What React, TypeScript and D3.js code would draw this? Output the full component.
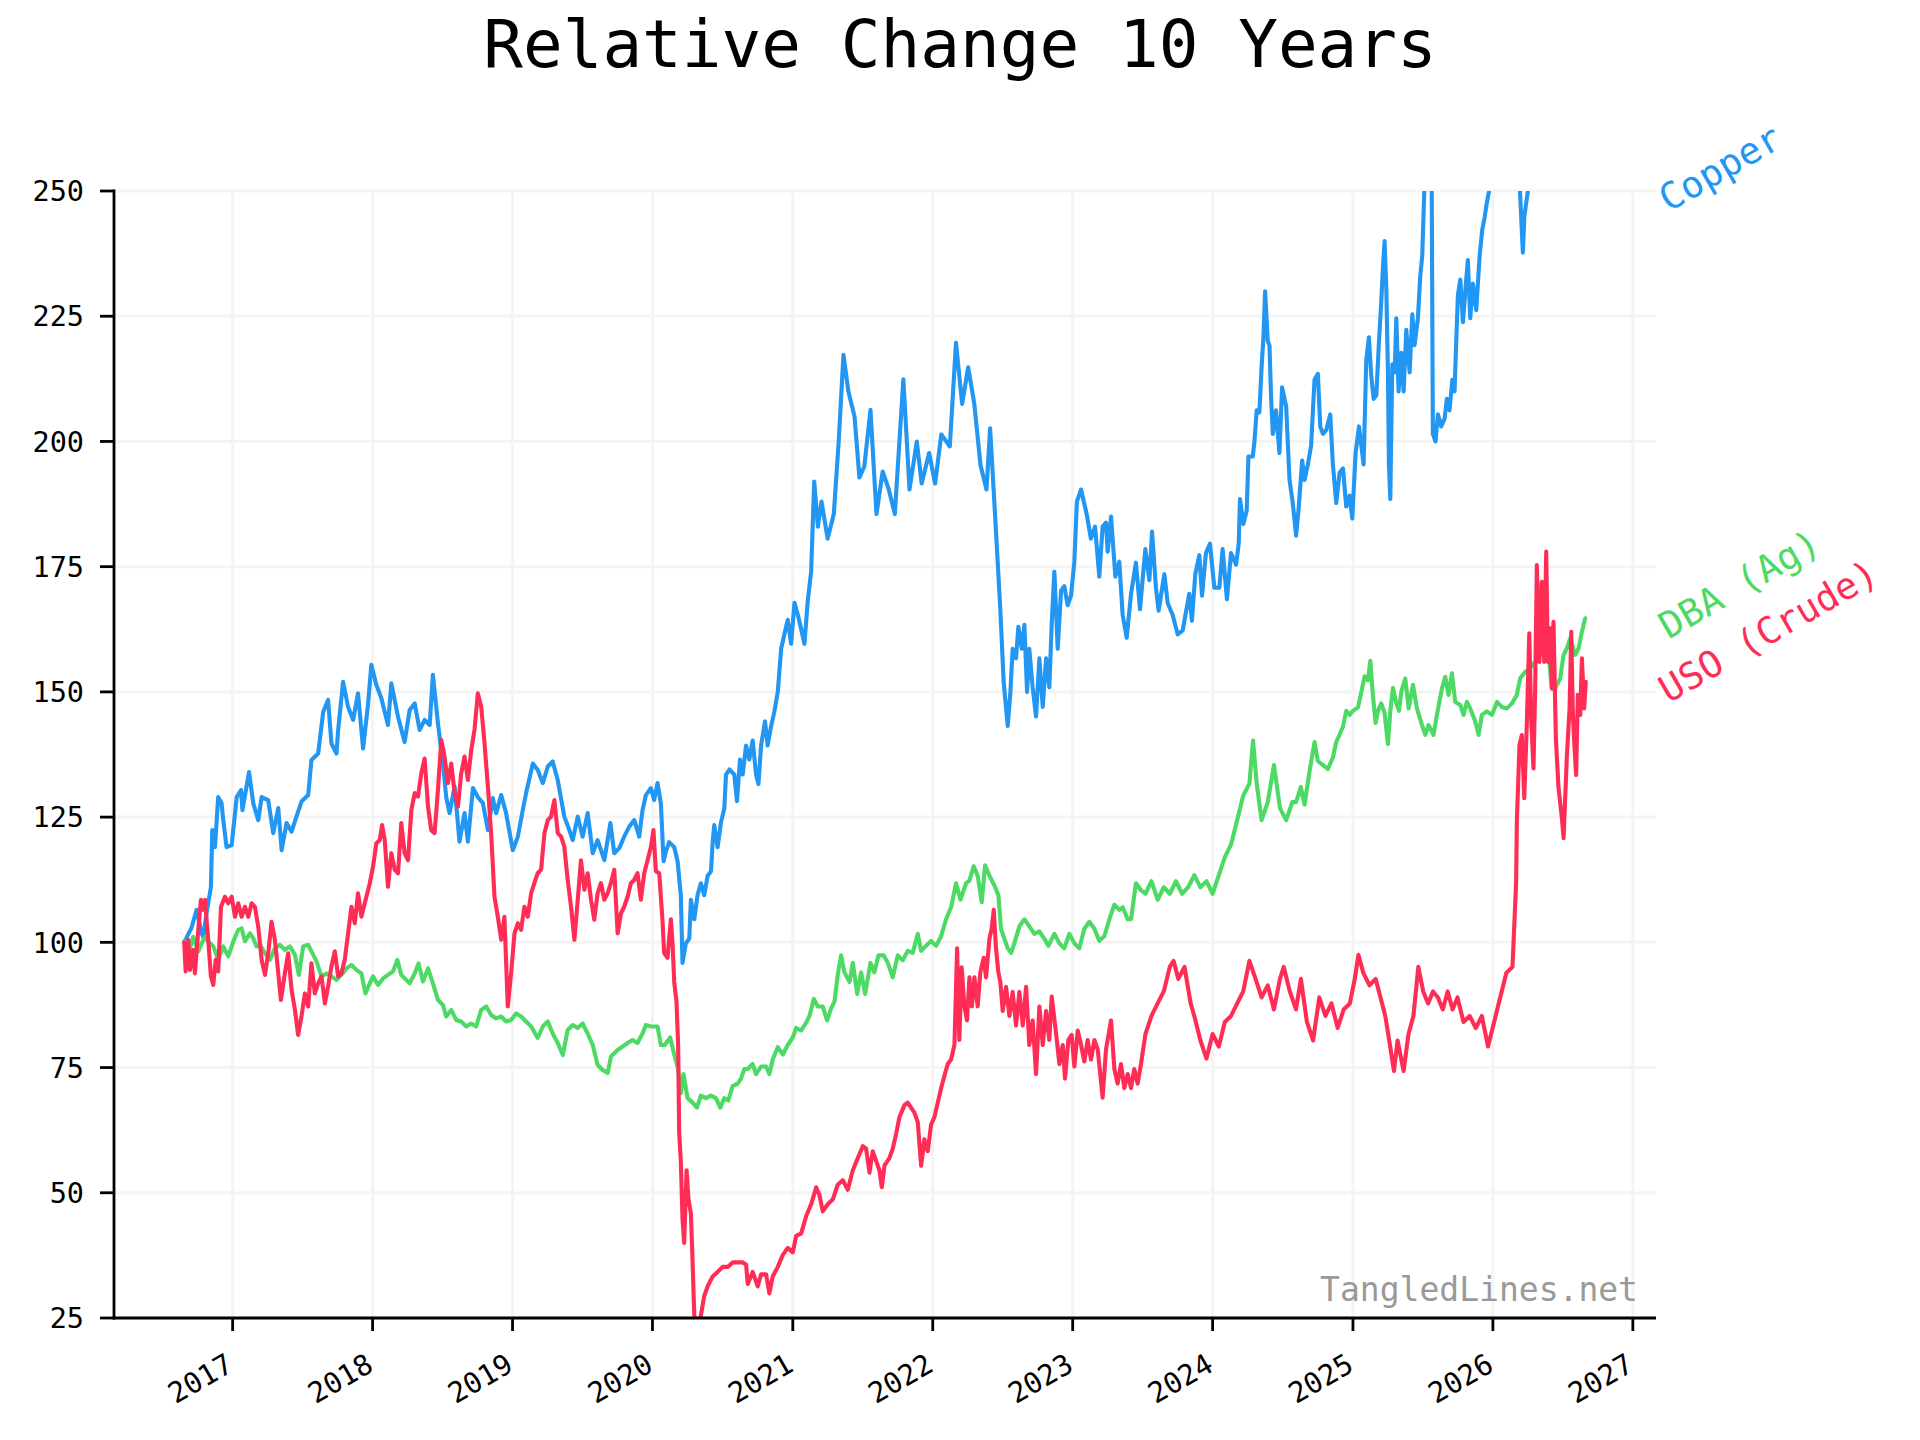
import React, { useEffect, useRef } from 'react';
import * as d3 from 'd3';

// [decimal year, value relative to start = 100]
type Pt = [number, number];

const copper: Pt[] = [
  [2016.655, 100], [2016.708, 103], [2016.743, 106.5], [2016.779, 101.8], [2016.791, 101], [2016.815, 106],
  [2016.845, 111], [2016.855, 122.4], [2016.874, 119], [2016.897, 129], [2016.921, 127.8], [2016.933, 124.4],
  [2016.957, 119], [2016.993, 119.4], [2017.029, 129], [2017.06, 130.4], [2017.07, 126.4], [2017.117, 134],
  [2017.147, 127.8], [2017.183, 124.4], [2017.207, 129], [2017.254, 128.4], [2017.29, 121.8], [2017.326, 126.8],
  [2017.35, 118.4], [2017.385, 123.8], [2017.421, 122.1], [2017.456, 125.1], [2017.492, 128.1], [2017.54, 129.4],
  [2017.563, 136.4], [2017.611, 137.7], [2017.647, 146], [2017.682, 148.4], [2017.706, 139.7], [2017.742, 137.7],
  [2017.754, 142.4], [2017.789, 152], [2017.825, 147], [2017.861, 144.4], [2017.896, 149.7], [2017.932, 138.7],
  [2017.968, 147.7], [2017.991, 155.4], [2018.027, 151.4], [2018.063, 148.7], [2018.11, 143.4], [2018.134, 151.7],
  [2018.182, 145], [2018.229, 140], [2018.265, 146.4], [2018.301, 147.7], [2018.336, 142.4], [2018.372, 144.4],
  [2018.408, 143.4], [2018.431, 153.4], [2018.467, 143.7], [2018.503, 135.7], [2018.526, 129], [2018.55, 125.8],
  [2018.586, 131.1], [2018.621, 120.1], [2018.657, 125.8], [2018.681, 120.1], [2018.717, 130.8], [2018.752, 129],
  [2018.788, 127.8], [2018.824, 122.4], [2018.859, 128.8], [2018.883, 125.8], [2018.919, 129.4], [2018.954, 125.8],
  [2019.002, 118.4], [2019.038, 121.1], [2019.073, 126.4], [2019.097, 129.8], [2019.145, 135.7], [2019.18, 134.4],
  [2019.216, 131.8], [2019.252, 135.1], [2019.287, 136.1], [2019.323, 132.4], [2019.37, 125.1], [2019.406, 122.4],
  [2019.43, 120.4], [2019.466, 125.1], [2019.501, 121.1], [2019.537, 125.8], [2019.573, 117.8], [2019.608, 120.4],
  [2019.656, 116.4], [2019.699, 123.8], [2019.727, 117.8], [2019.763, 118.8], [2019.798, 121.1], [2019.834, 123.1],
  [2019.87, 124.4], [2019.905, 121.1], [2019.929, 126.4], [2019.953, 129.4], [2019.989, 130.8], [2020.012, 128.4],
  [2020.036, 131.8], [2020.06, 127.7], [2020.079, 116.2], [2020.095, 118.1], [2020.119, 120], [2020.155, 119],
  [2020.179, 116.2], [2020.202, 109.4], [2020.214, 95.9], [2020.238, 99.8], [2020.262, 100.7], [2020.274, 108.5],
  [2020.298, 104.6], [2020.321, 109.4], [2020.345, 111.8], [2020.369, 109.4], [2020.393, 113.3], [2020.417, 114.2],
  [2020.429, 120], [2020.44, 123.4], [2020.464, 119], [2020.488, 123.9], [2020.512, 126.8], [2020.524, 133.5],
  [2020.548, 134.5], [2020.583, 133.5], [2020.602, 128.2], [2020.624, 136.5], [2020.643, 133.5], [2020.667, 139.3],
  [2020.69, 136.5], [2020.714, 140.3], [2020.738, 133.5], [2020.755, 131.6], [2020.774, 139.3], [2020.802, 144.1],
  [2020.821, 139.3], [2020.845, 143.1], [2020.869, 146.1], [2020.893, 150], [2020.917, 158.6], [2020.94, 161.5],
  [2020.964, 164.4], [2020.988, 159.6], [2021.012, 167.8], [2021.036, 165.4], [2021.06, 162.5], [2021.083, 159.6],
  [2021.107, 168.2], [2021.131, 174], [2021.153, 192], [2021.179, 183], [2021.205, 188], [2021.249, 180.6],
  [2021.293, 185.5], [2021.328, 200], [2021.362, 217.3], [2021.397, 210], [2021.441, 205], [2021.476, 192.8],
  [2021.511, 195], [2021.555, 206.3], [2021.598, 185.5], [2021.642, 194], [2021.686, 190.4], [2021.729, 185.5],
  [2021.79, 212.4], [2021.834, 190.4], [2021.886, 200], [2021.921, 191.6], [2021.974, 197.7], [2022.017, 191.6],
  [2022.061, 201.4], [2022.122, 199], [2022.166, 219.7], [2022.21, 207.5], [2022.253, 214.8], [2022.297, 207.5],
  [2022.341, 195.3], [2022.384, 190.4], [2022.41, 202.6], [2022.445, 185.5], [2022.464, 176], [2022.483, 166.3],
  [2022.507, 151.9], [2022.536, 143.2], [2022.555, 150], [2022.571, 158.6], [2022.595, 156.7], [2022.612, 163],
  [2022.636, 158.6], [2022.655, 163.4], [2022.674, 150], [2022.69, 158.6], [2022.714, 150.9], [2022.738, 145.1],
  [2022.762, 156.7], [2022.786, 147], [2022.81, 156.7], [2022.833, 150.9], [2022.85, 163.4], [2022.869, 174],
  [2022.893, 158.6], [2022.917, 170.2], [2022.94, 171.1], [2022.964, 167.3], [2022.988, 169.2], [2023.012, 176],
  [2023.03, 188], [2023.06, 190.4], [2023.1, 185.5], [2023.13, 180.6], [2023.16, 183], [2023.19, 173],
  [2023.214, 183], [2023.238, 183.8], [2023.25, 178], [2023.274, 185], [2023.305, 173], [2023.333, 176],
  [2023.357, 165.4], [2023.386, 160.8], [2023.417, 169.6], [2023.452, 175.8], [2023.481, 166.5], [2023.519, 178.5],
  [2023.548, 172.3], [2023.567, 182], [2023.595, 170.8], [2023.614, 166.2], [2023.655, 173.5], [2023.679, 167.7],
  [2023.714, 165.4], [2023.75, 161.5], [2023.786, 162.3], [2023.833, 169.6], [2023.852, 164.2], [2023.876, 173.5],
  [2023.905, 177.3], [2023.924, 169.2], [2023.952, 177.7], [2023.981, 179.6], [2024.012, 170.8], [2024.048, 170.8],
  [2024.071, 178.5], [2024.102, 168.5], [2024.131, 177.7], [2024.167, 175.4], [2024.186, 179.6], [2024.195, 188.5],
  [2024.219, 183.5], [2024.243, 186.2], [2024.255, 197], [2024.286, 197], [2024.298, 200], [2024.314, 206.2],
  [2024.333, 205.8], [2024.35, 215.4], [2024.362, 220.8], [2024.374, 230], [2024.393, 220], [2024.405, 219.2],
  [2024.417, 208.5], [2024.429, 201.5], [2024.452, 206.2], [2024.476, 197.7], [2024.495, 210.8], [2024.524, 207],
  [2024.548, 192.3], [2024.571, 187.7], [2024.595, 181.2], [2024.614, 187], [2024.638, 196.2], [2024.655, 192.3],
  [2024.679, 195.4], [2024.702, 199.2], [2024.726, 212.3], [2024.75, 213.5], [2024.767, 203], [2024.786, 201.5],
  [2024.81, 202.3], [2024.838, 205.4], [2024.857, 195.4], [2024.881, 187.7], [2024.905, 193.8], [2024.929, 194.6],
  [2024.952, 187], [2024.976, 189.2], [2024.995, 184.6], [2025.019, 197.7], [2025.043, 203], [2025.06, 199.2],
  [2025.076, 195.4], [2025.095, 216.2], [2025.114, 220.8], [2025.131, 213], [2025.148, 208.5], [2025.167, 209.2],
  [2025.186, 220], [2025.202, 227.7], [2025.214, 234.6], [2025.226, 240], [2025.238, 230.8], [2025.25, 213.8],
  [2025.257, 195.4], [2025.267, 188.5], [2025.281, 215.4], [2025.298, 213.8], [2025.31, 224.6], [2025.326, 210],
  [2025.345, 217.7], [2025.362, 210], [2025.381, 222.3], [2025.405, 213.8], [2025.424, 225.4], [2025.44, 219.2],
  [2025.464, 224.6], [2025.481, 233], [2025.495, 237], [2025.512, 252], [2025.525, 272], [2025.56, 268],
  [2025.571, 201.5], [2025.59, 200], [2025.607, 205.4], [2025.631, 203], [2025.655, 204.6], [2025.671, 208.5],
  [2025.69, 206.2], [2025.71, 212.3], [2025.726, 210], [2025.738, 220], [2025.75, 229.2], [2025.767, 232.3],
  [2025.786, 223.8], [2025.805, 230.8], [2025.821, 236.2], [2025.838, 224.6], [2025.857, 231.5], [2025.881, 226.2],
  [2025.905, 237], [2025.924, 242.3], [2025.94, 244.6], [2025.957, 247.7], [2025.976, 250.5], [2026.02, 258],
  [2026.08, 262], [2026.14, 258], [2026.19, 252], [2026.214, 237.7], [2026.225, 245], [2026.26, 252],
  [2026.3, 258], [2026.4, 263], [2026.5, 266], [2026.6, 262], [2026.665, 268],
];

const dba: Pt[] = [
  [2016.655, 100.2], [2016.684, 97.8], [2016.719, 101.1], [2016.755, 98.2], [2016.779, 99.8], [2016.803, 101.1],
  [2016.838, 99.8], [2016.862, 99.2], [2016.897, 96.5], [2016.933, 99.2], [2016.969, 97.2], [2017.005, 100.2],
  [2017.04, 102.5], [2017.064, 102.8], [2017.088, 100.2], [2017.124, 101.8], [2017.147, 100.8], [2017.171, 99.2],
  [2017.195, 99.5], [2017.231, 97.8], [2017.266, 96.5], [2017.302, 98.8], [2017.338, 99.5], [2017.373, 98.5],
  [2017.409, 99.2], [2017.445, 97.5], [2017.473, 93.5], [2017.504, 99.2], [2017.54, 99.5], [2017.563, 98.2],
  [2017.599, 96.2], [2017.635, 93.2], [2017.67, 93.8], [2017.706, 93.2], [2017.742, 92.5], [2017.777, 93.5],
  [2017.813, 94.8], [2017.849, 95.5], [2017.884, 94.5], [2017.92, 93.8], [2017.949, 89.8], [2017.98, 91.8],
  [2018.003, 93.2], [2018.039, 91.5], [2018.075, 92.8], [2018.11, 93.5], [2018.146, 94.2], [2018.177, 96.5],
  [2018.205, 93.5], [2018.241, 92.5], [2018.265, 91.8], [2018.301, 93.8], [2018.329, 95.8], [2018.36, 92.2],
  [2018.396, 94.8], [2018.431, 91.8], [2018.467, 88.5], [2018.503, 87.5], [2018.526, 85.2], [2018.562, 86.5],
  [2018.598, 84.5], [2018.633, 84.2], [2018.669, 83.2], [2018.705, 83.8], [2018.74, 83.2], [2018.776, 86.5],
  [2018.812, 87.2], [2018.847, 85.5], [2018.883, 84.8], [2018.919, 85.2], [2018.954, 84.2], [2018.99, 84.5],
  [2019.026, 85.8], [2019.061, 85.2], [2019.097, 84.2], [2019.133, 83.2], [2019.18, 80.9], [2019.216, 83.2],
  [2019.252, 84.2], [2019.287, 81.8], [2019.323, 79.9], [2019.359, 77.5], [2019.394, 82.5], [2019.43, 83.5],
  [2019.466, 82.9], [2019.501, 83.8], [2019.537, 81.8], [2019.573, 79.5], [2019.608, 75.5], [2019.644, 74.5],
  [2019.68, 73.9], [2019.703, 77.2], [2019.751, 78.5], [2019.787, 79.2], [2019.822, 79.9], [2019.858, 80.5],
  [2019.893, 79.9], [2019.929, 81.8], [2019.953, 83.5], [2019.989, 83.2], [2020.036, 83.2], [2020.06, 79.5],
  [2020.088, 79.5], [2020.126, 81], [2020.155, 77.6], [2020.183, 74.7], [2020.202, 69.9], [2020.221, 73.7],
  [2020.25, 68.9], [2020.286, 68], [2020.317, 67], [2020.345, 69.4], [2020.381, 68.9], [2020.417, 69.4],
  [2020.452, 68.9], [2020.483, 67], [2020.512, 68.9], [2020.54, 68.4], [2020.571, 71.3], [2020.607, 71.8],
  [2020.631, 72.8], [2020.655, 74.7], [2020.679, 74.7], [2020.714, 75.7], [2020.738, 73.7], [2020.774, 75.2],
  [2020.81, 75.2], [2020.833, 73.7], [2020.857, 76.6], [2020.893, 79.1], [2020.929, 77.6], [2020.964, 79.5],
  [2021.0, 81], [2021.024, 82.9], [2021.06, 82.4], [2021.095, 83.9], [2021.119, 85.3], [2021.15, 88.7],
  [2021.179, 87.2], [2021.214, 87.2], [2021.245, 84.4], [2021.274, 86.8], [2021.298, 88.2], [2021.321, 93.5],
  [2021.345, 97.4], [2021.369, 94], [2021.405, 92.1], [2021.429, 95.9], [2021.46, 89.7], [2021.488, 94],
  [2021.517, 89.7], [2021.555, 95.9], [2021.583, 94], [2021.612, 97.4], [2021.65, 97.4], [2021.679, 95.9],
  [2021.714, 93], [2021.75, 97.4], [2021.786, 96.4], [2021.821, 98.3], [2021.857, 97.9], [2021.893, 101.7],
  [2021.917, 98.3], [2021.952, 99.3], [2021.988, 100.3], [2022.024, 99.3], [2022.06, 101.2], [2022.095, 104.6],
  [2022.131, 107], [2022.167, 111.8], [2022.198, 108.5], [2022.238, 111.8], [2022.262, 112.3], [2022.293, 115.2],
  [2022.321, 113.3], [2022.35, 108], [2022.374, 115.4], [2022.405, 113.3], [2022.44, 111.4], [2022.469, 109.4],
  [2022.488, 102.7], [2022.512, 100.7], [2022.536, 98.8], [2022.56, 97.9], [2022.583, 99.8], [2022.619, 103.2],
  [2022.655, 104.6], [2022.69, 103.2], [2022.726, 101.7], [2022.762, 102.2], [2022.798, 100.7], [2022.826, 99.3],
  [2022.869, 101.7], [2022.905, 99.8], [2022.94, 98.8], [2022.976, 101.7], [2023.012, 99.8], [2023.048, 98.8],
  [2023.083, 102.7], [2023.119, 104.1], [2023.155, 102.7], [2023.19, 100.3], [2023.226, 101.2], [2023.262, 104.6],
  [2023.298, 107.5], [2023.333, 106.5], [2023.357, 107], [2023.393, 104.6], [2023.417, 104.6], [2023.452, 111.8],
  [2023.488, 110.4], [2023.52, 109.7], [2023.563, 112.2], [2023.607, 108.5], [2023.651, 111], [2023.694, 109.7],
  [2023.738, 112.2], [2023.782, 109.7], [2023.825, 111], [2023.869, 113.4], [2023.913, 111], [2023.956, 112.2],
  [2024.0, 109.7], [2024.044, 113.4], [2024.087, 117], [2024.131, 119.5], [2024.175, 124.4], [2024.218, 129.3],
  [2024.262, 131.7], [2024.288, 140.3], [2024.314, 131.7], [2024.349, 124.4], [2024.393, 128], [2024.437, 135.4],
  [2024.48, 126.8], [2024.524, 124.4], [2024.568, 128], [2024.594, 128], [2024.629, 131], [2024.655, 127.5],
  [2024.69, 134], [2024.726, 140], [2024.75, 136.2], [2024.786, 135.4], [2024.821, 134.6], [2024.857, 136.9],
  [2024.881, 140], [2024.905, 141.5], [2024.929, 143.1], [2024.952, 146.2], [2024.976, 145.4], [2025.0, 146.2],
  [2025.036, 146.9], [2025.06, 150], [2025.083, 153.1], [2025.107, 152.3], [2025.124, 156.2], [2025.143, 149.2],
  [2025.162, 143.8], [2025.179, 146.2], [2025.202, 147.7], [2025.226, 145.8], [2025.25, 139.6], [2025.267, 146.2],
  [2025.286, 150.8], [2025.31, 147.7], [2025.329, 146.2], [2025.345, 150], [2025.374, 152.7], [2025.398, 146.7],
  [2025.429, 151.4], [2025.457, 146.7], [2025.493, 143.4], [2025.517, 141.4], [2025.54, 143.4], [2025.576, 141.4],
  [2025.6, 145.4], [2025.636, 150.7], [2025.66, 153], [2025.683, 149.4], [2025.707, 153.7], [2025.731, 148],
  [2025.767, 147.4], [2025.79, 145.4], [2025.814, 148], [2025.838, 146.7], [2025.874, 144.1], [2025.898, 141.4],
  [2025.921, 145.4], [2025.957, 146.1], [2025.993, 145.4], [2026.029, 148], [2026.064, 147], [2026.1, 146.7],
  [2026.136, 147.7], [2026.171, 149.4], [2026.195, 152.7], [2026.231, 154], [2026.267, 154.7], [2026.302, 156],
  [2026.338, 157.4], [2026.374, 160.7], [2026.398, 157.4], [2026.421, 150.7], [2026.445, 150.7], [2026.481, 152.7],
  [2026.505, 157.4], [2026.529, 158.7], [2026.552, 160.7], [2026.588, 157.4], [2026.612, 158.7], [2026.636, 162],
  [2026.66, 164.7],
];

const uso: Pt[] = [
  [2016.655, 100], [2016.665, 94.2], [2016.684, 100.5], [2016.696, 94.5], [2016.719, 98.5], [2016.731, 93.8],
  [2016.755, 102.5], [2016.774, 108.5], [2016.791, 106.5], [2016.803, 108.5], [2016.826, 100.5], [2016.845, 93.2],
  [2016.862, 91.5], [2016.879, 96.5], [2016.897, 94.2], [2016.917, 107.1], [2016.945, 109.1], [2016.969, 107.8],
  [2016.993, 109.1], [2017.017, 105.1], [2017.04, 107.8], [2017.064, 105.1], [2017.088, 107.1], [2017.112, 105.1],
  [2017.136, 107.8], [2017.159, 107.1], [2017.183, 103.1], [2017.207, 96.5], [2017.231, 93.5], [2017.254, 97.8],
  [2017.278, 104.1], [2017.302, 100.5], [2017.326, 93.8], [2017.345, 88.5], [2017.373, 93.8], [2017.397, 97.8],
  [2017.421, 90.5], [2017.445, 86.5], [2017.468, 81.5], [2017.492, 85.2], [2017.516, 89.8], [2017.54, 87.2],
  [2017.563, 95.8], [2017.587, 89.8], [2017.611, 91.8], [2017.635, 93.2], [2017.659, 87.8], [2017.682, 91.2],
  [2017.706, 95.2], [2017.73, 98.2], [2017.754, 93.2], [2017.777, 93.8], [2017.801, 96.5], [2017.825, 101.8],
  [2017.849, 107.1], [2017.873, 103.8], [2017.896, 109.8], [2017.92, 105.1], [2017.944, 107.8], [2017.98, 111.8],
  [2018.003, 115.1], [2018.027, 119.8], [2018.051, 120.4], [2018.068, 123.4], [2018.087, 120.4], [2018.11, 111.1],
  [2018.134, 117.8], [2018.158, 114.5], [2018.182, 113.8], [2018.205, 123.8], [2018.229, 117.8], [2018.253, 116.4],
  [2018.277, 126.4], [2018.301, 129.8], [2018.324, 129.1], [2018.348, 133.7], [2018.372, 136.7], [2018.396, 127.1],
  [2018.419, 122.4], [2018.443, 121.8], [2018.467, 130.4], [2018.491, 140.4], [2018.514, 137.1], [2018.538, 131.8],
  [2018.562, 135.7], [2018.586, 129.8], [2018.61, 127.1], [2018.633, 133.7], [2018.657, 137.1], [2018.681, 132.4],
  [2018.705, 138.4], [2018.728, 142.4], [2018.752, 149.7], [2018.776, 147.1], [2018.8, 139.7], [2018.824, 131.1],
  [2018.847, 121.8], [2018.871, 109.1], [2018.895, 105.1], [2018.919, 100.5], [2018.942, 105.1], [2018.966, 87.2],
  [2018.99, 93.8], [2019.014, 101.8], [2019.038, 103.8], [2019.061, 102.5], [2019.085, 107.1], [2019.109, 105.1],
  [2019.133, 109.8], [2019.156, 111.8], [2019.18, 113.8], [2019.204, 114.5], [2019.228, 121.8], [2019.252, 124.4],
  [2019.275, 125.1], [2019.299, 128.4], [2019.323, 121.8], [2019.347, 121.1], [2019.37, 119.1], [2019.394, 112.5],
  [2019.418, 107.1], [2019.442, 100.5], [2019.466, 108.5], [2019.489, 116.4], [2019.513, 110.5], [2019.537, 113.8],
  [2019.561, 108.5], [2019.584, 104.5], [2019.608, 109.8], [2019.632, 111.8], [2019.656, 108.5], [2019.68, 109.8],
  [2019.703, 111.8], [2019.727, 114.5], [2019.751, 101.8], [2019.775, 105.8], [2019.798, 107.1], [2019.822, 109.1],
  [2019.846, 111.8], [2019.87, 112.5], [2019.893, 113.8], [2019.917, 108.5], [2019.941, 113.8], [2019.965, 116.4],
  [2019.989, 119.1], [2020.007, 122.4], [2020.024, 114.2], [2020.048, 113.8], [2020.071, 104.6], [2020.083, 97.9],
  [2020.107, 96.9], [2020.131, 104.6], [2020.143, 99.8], [2020.155, 92.1], [2020.171, 88.2], [2020.183, 79.5],
  [2020.19, 62.2], [2020.202, 56.4], [2020.214, 44.8], [2020.226, 40], [2020.243, 54.5], [2020.257, 48.7],
  [2020.274, 45.8], [2020.286, 36.1], [2020.298, 25.5], [2020.321, 23.5], [2020.345, 25.5], [2020.369, 29.4],
  [2020.393, 31.3], [2020.429, 33.3], [2020.464, 34.2], [2020.5, 35.2], [2020.536, 35.2], [2020.571, 36.1],
  [2020.607, 36.1], [2020.643, 36.1], [2020.667, 35.7], [2020.679, 31.8], [2020.714, 34.2], [2020.75, 31.3],
  [2020.774, 33.7], [2020.81, 33.7], [2020.833, 29.9], [2020.857, 33.3], [2020.893, 35.2], [2020.929, 37.6],
  [2020.964, 39], [2021.0, 38.1], [2021.024, 41.4], [2021.06, 41.9], [2021.095, 45.3], [2021.131, 47.7],
  [2021.167, 51.1], [2021.19, 49.6], [2021.214, 46.3], [2021.25, 47.7], [2021.286, 48.7], [2021.321, 51.6],
  [2021.357, 52.5], [2021.393, 50.6], [2021.429, 54.5], [2021.464, 56.9], [2021.5, 59.3], [2021.524, 58.8],
  [2021.548, 54], [2021.571, 58.3], [2021.595, 56.4], [2021.619, 54.5], [2021.636, 51.1], [2021.655, 55.4],
  [2021.69, 56.9], [2021.714, 58.8], [2021.738, 61.7], [2021.762, 65.1], [2021.798, 67.5], [2021.821, 68],
  [2021.845, 67], [2021.869, 66], [2021.893, 64.1], [2021.917, 55.4], [2021.94, 60.7], [2021.964, 58.3],
  [2021.988, 63.6], [2022.012, 65.1], [2022.036, 68], [2022.06, 70.9], [2022.083, 73.3], [2022.107, 75.7],
  [2022.131, 76.6], [2022.155, 79.5], [2022.174, 98.8], [2022.19, 80.5], [2022.207, 95], [2022.226, 87.2],
  [2022.245, 84.4], [2022.262, 93], [2022.279, 87.2], [2022.298, 93], [2022.321, 87.2], [2022.34, 94],
  [2022.364, 96.9], [2022.381, 93], [2022.405, 100.7], [2022.421, 102.7], [2022.436, 106.5], [2022.452, 98.8],
  [2022.469, 94], [2022.483, 92.1], [2022.5, 86.3], [2022.524, 91.1], [2022.548, 85.3], [2022.571, 90.1],
  [2022.595, 83.4], [2022.619, 90.1], [2022.643, 83.4], [2022.667, 91.1], [2022.69, 79.5], [2022.714, 84.4],
  [2022.738, 73.7], [2022.762, 87.2], [2022.786, 79.5], [2022.81, 86.3], [2022.833, 80.5], [2022.85, 89.2],
  [2022.881, 81.9], [2022.905, 75.7], [2022.929, 79.5], [2022.945, 72.8], [2022.969, 80.5], [2022.993, 81.5],
  [2023.012, 75.2], [2023.036, 82.4], [2023.06, 79.5], [2023.083, 76.2], [2023.107, 80.5], [2023.131, 76.6],
  [2023.155, 80.5], [2023.179, 78.6], [2023.214, 69], [2023.238, 78.6], [2023.274, 84.4], [2023.298, 74.7],
  [2023.321, 71.8], [2023.345, 75.7], [2023.369, 70.9], [2023.393, 73.7], [2023.417, 70.9], [2023.44, 74.7],
  [2023.464, 71.8], [2023.488, 75.7], [2023.52, 81.7], [2023.563, 85.3], [2023.607, 87.8], [2023.651, 90.2],
  [2023.694, 95.1], [2023.721, 96.3], [2023.755, 92.7], [2023.799, 95.1], [2023.843, 87.8], [2023.869, 85.3],
  [2023.913, 80.4], [2023.956, 76.8], [2024.0, 81.7], [2024.044, 79.2], [2024.087, 84.1], [2024.131, 85.3],
  [2024.175, 87.8], [2024.218, 90.2], [2024.262, 96.3], [2024.306, 92.7], [2024.349, 89], [2024.393, 91.4],
  [2024.437, 86.6], [2024.48, 92.7], [2024.507, 95.1], [2024.55, 90.2], [2024.594, 86.6], [2024.629, 92.7],
  [2024.672, 84.1], [2024.716, 80.4], [2024.76, 89], [2024.804, 85.3], [2024.847, 87.8], [2024.891, 82.9],
  [2024.934, 86.6], [2024.978, 87.8], [2025.013, 92.7], [2025.039, 97.5], [2025.074, 93.9], [2025.118, 91.4],
  [2025.162, 92.7], [2025.197, 89], [2025.231, 85.3], [2025.266, 79.2], [2025.293, 74.3], [2025.319, 80.4],
  [2025.362, 74.3], [2025.397, 81.7], [2025.432, 85.3], [2025.467, 95.1], [2025.502, 90.2], [2025.537, 87.8],
  [2025.572, 90.2], [2025.607, 89], [2025.642, 86.6], [2025.677, 90.2], [2025.712, 86.6], [2025.747, 89],
  [2025.79, 84.1], [2025.834, 85.3], [2025.878, 82.9], [2025.921, 85.3], [2025.965, 79.2], [2026.009, 84.1],
  [2026.052, 89], [2026.096, 93.9], [2026.14, 95.1], [2026.166, 112], [2026.171, 124], [2026.19, 139.4],
  [2026.207, 141.4], [2026.224, 128.8], [2026.243, 144.1], [2026.26, 161.7], [2026.274, 144.1], [2026.29, 134.7],
  [2026.302, 150.7], [2026.314, 175.3], [2026.333, 156], [2026.35, 172], [2026.367, 156], [2026.381, 178],
  [2026.393, 156], [2026.41, 162.7], [2026.421, 150.7], [2026.433, 164], [2026.45, 140.7], [2026.469, 130.8],
  [2026.493, 124.8], [2026.505, 120.8], [2026.529, 137.4], [2026.548, 146.7], [2026.56, 162], [2026.571, 146],
  [2026.581, 140], [2026.595, 133.4], [2026.607, 149.4], [2026.624, 145.4], [2026.636, 156.7], [2026.652, 146.7],
  [2026.664, 152],
];

const seriesNames = ['Copper', 'DBA (Ag)', 'USO (Crude)'];
const seriesColors = ['#2196F3', '#4CD964', '#FF2D55'];
const yTicks = [25, 50, 75, 100, 125, 150, 175, 200, 225, 250];
const yRange: [number, number] = [25, 250];
const titleText = 'Relative Change 10 Years';
const watermark = 'TangledLines.net';

const FONT = '"DejaVu Sans Mono", monospace';

// decimal year -> Date
const toDate = (y: number): Date => {
  const yr = Math.floor(y);
  const a = Date.UTC(yr, 0, 1);
  const b = Date.UTC(yr + 1, 0, 1);
  return new Date(a + (y - yr) * (b - a));
};

const Chart: React.FC = () => {
  const svgRef = useRef<SVGSVGElement>(null);

  useEffect(() => {
    if (!svgRef.current) return;
    const W = 1920, H = 1440;
    const left = 114, right = 1656, top = 191, bottom = 1318;

    const svg = d3.select(svgRef.current);
    svg.selectAll('*').remove();
    svg.attr('width', W).attr('height', H);
    svg.append('rect').attr('width', W).attr('height', H).attr('fill', '#fff');

    const all = [copper, dba, uso];
    const t0 = d3.min(all, s => s[0][0])!;
    const t1 = d3.max(all, s => s[s.length - 1][0])!;
    const pad = (t1 - t0) * 0.05;

    const x = d3.scaleUtc().domain([toDate(t0 - pad), toDate(t1 + pad)]).range([left, right]);
    const y = d3.scaleLinear().domain(yRange).range([bottom, top]);
    const years = d3.utcYear.range(toDate(t0), toDate(t1 + pad));

    // title
    svg.append('text')
      .attr('x', W / 2).attr('y', 67)
      .attr('text-anchor', 'middle')
      .style('font-family', FONT).style('font-size', '66px')
      .text(titleText);

    // grid
    const grid = svg.append('g').attr('stroke', '#f4f4f4').attr('stroke-width', 3);
    grid.selectAll('.gy').data(yTicks).enter().append('line')
      .attr('x1', left).attr('x2', right)
      .attr('y1', d => y(d)).attr('y2', d => y(d));
    grid.selectAll('.gx').data(years).enter().append('line')
      .attr('x1', d => x(d)).attr('x2', d => x(d))
      .attr('y1', top).attr('y2', bottom);

    svg.append('clipPath').attr('id', 'plot-clip')
      .append('rect').attr('x', left).attr('y', top)
      .attr('width', right - left).attr('height', bottom - top);

    const line = d3.line<Pt>()
      .x(d => x(toDate(d[0])))
      .y(d => y(d[1]));

    const lines = svg.append('g').attr('clip-path', 'url(#plot-clip)');
    all.forEach((s, i) => {
      lines.append('path')
        .datum(s)
        .attr('d', line)
        .attr('fill', 'none')
        .attr('stroke', seriesColors[i])
        .attr('stroke-width', 4.1)
        .attr('stroke-linejoin', 'round')
        .attr('stroke-linecap', 'round');
    });

    // spines
    const axis = svg.append('g').attr('stroke', '#000').attr('stroke-width', 2.8);
    axis.append('line').attr('x1', left).attr('x2', left).attr('y1', top - 1.4).attr('y2', bottom + 1.4);
    axis.append('line').attr('x1', left - 1.4).attr('x2', right).attr('y1', bottom).attr('y2', bottom);

    // y ticks
    axis.selectAll('.ty').data(yTicks).enter().append('line')
      .attr('x1', left - 14).attr('x2', left)
      .attr('y1', d => y(d)).attr('y2', d => y(d));
    svg.selectAll('.ly').data(yTicks).enter().append('text')
      .attr('x', left - 30).attr('y', d => y(d))
      .attr('dy', '0.36em')
      .attr('text-anchor', 'end')
      .style('font-family', FONT).style('font-size', '28.5px')
      .text(d => String(d));

    // x ticks
    axis.selectAll('.tx').data(years).enter().append('line')
      .attr('x1', d => x(d)).attr('x2', d => x(d))
      .attr('y1', bottom).attr('y2', bottom + 13);
    svg.selectAll('.lx').data(years).enter().append('text')
      .attr('transform', d => `translate(${x(d) - 8},${bottom + 34}) rotate(-30)`)
      .attr('dy', '0.73em')
      .attr('text-anchor', 'end')
      .style('font-family', FONT).style('font-size', '28.5px')
      .text(d => d3.utcFormat('%Y')(d));

    // end labels
    all.forEach((s, i) => {
      const last = s[s.length - 1];
      const v = Math.min(Math.max(last[1], yRange[0]), yRange[1]);
      const lx = x(toDate(t1)) + 76;
      const ly = y(v) + 10;
      svg.append('text')
        .attr('transform', `translate(${lx},${ly}) rotate(-30)`)
        .attr('dy', '0.36em')
        .attr('text-anchor', 'start')
        .attr('fill', seriesColors[i])
        .style('font-family', FONT).style('font-size', '37px')
        .text(seriesNames[i]);
    });

    // watermark
    svg.append('text')
      .attr('x', right - 18).attr('y', bottom - 17)
      .attr('text-anchor', 'end')
      .attr('fill', '#999')
      .style('font-family', FONT).style('font-size', '33px')
      .text(watermark);
  }, []);

  return <svg ref={svgRef} style={{ position: 'absolute', left: 0, top: 0, display: 'block' }} />;
};

export default function App() {
  return <Chart />;
}
